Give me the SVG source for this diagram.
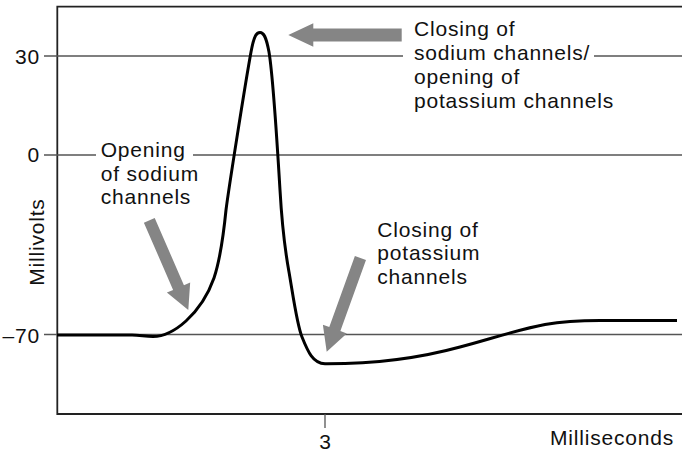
<svg xmlns="http://www.w3.org/2000/svg" width="682" height="454" viewBox="0 0 682 454">
<style>
  .t { font-family: "Liberation Sans", Arial, Helvetica, sans-serif; font-size: 21px; letter-spacing: 0.8px; fill: #111; }
  .grid { stroke: #555; stroke-width: 1.3; fill: none; }
  .axis { stroke: #222; stroke-width: 1.8; fill: none; }
  .curve { stroke: #000; stroke-width: 3; fill: none; stroke-linejoin: round; stroke-linecap: butt; }
  .arrow { fill: #858585; stroke: none; }
</style>
<rect width="682" height="454" fill="#fff"/>
<g id="axes">
  <path class="axis" d="M682,6.7 H57.3 V414 H682"/>
  <path class="grid" d="M44,56 H403 M594,56 H682"/>
  <path class="grid" d="M44,155 H96 M193,155 H682"/>
  <path class="grid" d="M44,334.5 H682"/>
  <path class="grid" d="M325,414 V428"/>
  <text class="t" x="40" y="63.5" text-anchor="end">30</text>
  <text class="t" x="40" y="162" text-anchor="end">0</text>
  <text class="t" x="40" y="342.5" text-anchor="end">–70</text>
  <text class="t" x="325.5" y="448.5" text-anchor="middle">3</text>
  <text class="t" x="550" y="445">Milliseconds</text>
  <text class="t" transform="translate(44,242) rotate(-90)" text-anchor="middle">Millivolts</text>
</g>
<g id="trace">
  <path class="curve" d="M57,335 L132,335 C140,335 145,336.5 153,336.5 C165,336.5 176,330 186,321 C198,310 208,295 214,278 C220,260 223,240 226,210 C228.5,190 245,85 251,52 C254,35.5 256.5,32.5 260,32.5 C263.5,32.5 266,36 269,52 C272,70 277,140 280,190 C282,225 285,250 289,272 C293,295 297,325 302,337 C308,352 313,363.5 325,363.8 C380,364 420,358 460,347 C490,339 520,329 545,324.5 C562,321.5 575,320.5 600,320.5 L677,320.5"/>
</g>
<g id="connectors">
  <polygon class="arrow" points="401.7,28.5 313.3,28.5 313.3,23.3 288.3,35 313.3,46.7 313.3,41.5 401.7,41.5"/>
  <polygon class="arrow" transform="translate(188.3,310) rotate(66.5)" points="-97.8,-5.9 -24.5,-5.9 -24.5,-12.7 0,0 -24.5,12.7 -24.5,5.9 -97.8,5.9"/>
  <polygon class="arrow" transform="translate(326.7,351.7) rotate(109.8)" points="-99.6,-5.9 -24,-5.9 -24,-12.7 0,0 -24,12.7 -24,5.9 -99.6,5.9"/>
</g>
<g id="label-closing-na">
  <text class="t" x="414" y="36">Closing of</text>
  <text class="t" x="414" y="60">sodium channels/</text>
  <text class="t" x="414" y="84">opening of</text>
  <text class="t" x="414" y="108">potassium channels</text>
</g>
<g id="label-opening-na">
  <text class="t" x="100.7" y="157">Opening</text>
  <text class="t" x="100.7" y="180.5">of sodium</text>
  <text class="t" x="100.7" y="204">channels</text>
</g>
<g id="label-closing-k">
  <text class="t" x="377.3" y="236.5">Closing of</text>
  <text class="t" x="377.3" y="260">potassium</text>
  <text class="t" x="377.3" y="283.5">channels</text>
</g>
</svg>
